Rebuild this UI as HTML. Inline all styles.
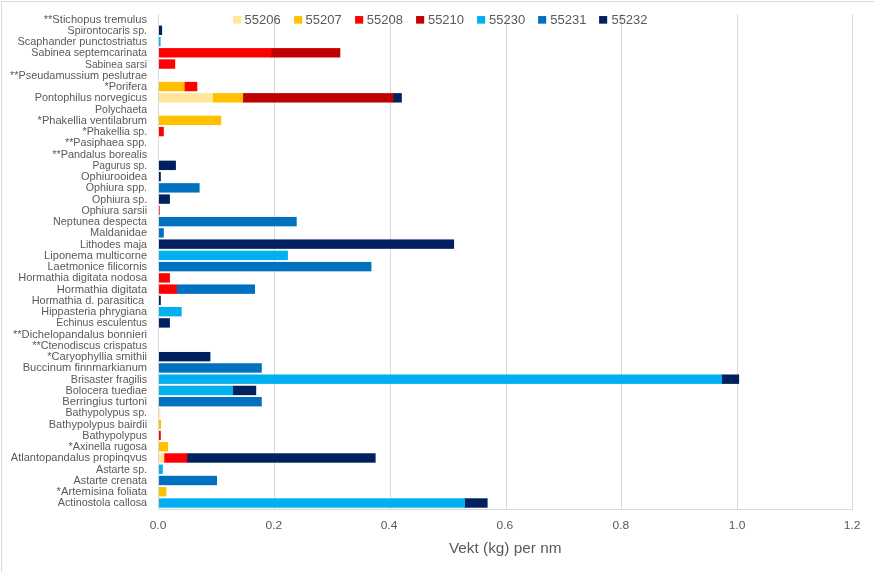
<!DOCTYPE html>
<html lang="no"><head><meta charset="utf-8"><title>Vekt (kg) per nm</title>
<style>html,body{margin:0;padding:0;background:#fff}svg{display:block}text{font-family:"Liberation Sans",sans-serif;fill:#595959}.c{font-size:10.8px;text-anchor:end}.t{font-size:11.6px;text-anchor:middle}.l{font-size:12.6px}.a{font-size:15px;text-anchor:middle}</style></head><body>
<svg width="874" height="572" viewBox="0 0 874 572">
<rect width="874" height="572" fill="#fff"/>
<path d="M1.5 572V1.5H874" fill="none" stroke="#D9D9D9" stroke-width="1"/>
<path d="M274.5 14V509M390.5 14V509M506.5 14V509M621.5 14V509M737.5 14V509M852.5 14V509" fill="none" stroke="#D9D9D9" stroke-width="1"/>
<rect x="159.0" y="25.59" width="3.1" height="9.4" fill="#002060"/>
<rect x="159.0" y="36.84" width="1.6" height="9.4" fill="#00B0F0"/>
<rect x="270.9" y="48.09" width="69.4" height="9.4" fill="#C00000"/>
<rect x="159.0" y="48.09" width="112.6" height="9.4" fill="#FF0000"/>
<rect x="159.0" y="59.35" width="16.2" height="9.4" fill="#FF0000"/>
<rect x="184.0" y="81.86" width="13.3" height="9.4" fill="#FF0000"/>
<rect x="159.0" y="81.86" width="25.7" height="9.4" fill="#FFC000"/>
<rect x="392.8" y="93.12" width="9.0" height="9.4" fill="#002060"/>
<rect x="242.4" y="93.12" width="151.1" height="9.4" fill="#C00000"/>
<rect x="212.2" y="93.12" width="30.9" height="9.4" fill="#FFC000"/>
<rect x="159.0" y="93.12" width="53.9" height="9.4" fill="#FFE699"/>
<rect x="159.0" y="115.63" width="62.2" height="9.4" fill="#FFC000"/>
<rect x="159.0" y="126.88" width="4.8" height="9.4" fill="#FF0000"/>
<rect x="159.0" y="160.65" width="16.9" height="9.4" fill="#002060"/>
<rect x="159.0" y="171.90" width="1.8" height="9.4" fill="#002060"/>
<rect x="159.0" y="183.16" width="40.6" height="9.4" fill="#0070C0"/>
<rect x="159.0" y="194.41" width="10.9" height="9.4" fill="#002060"/>
<rect x="159.0" y="205.67" width="0.7" height="9.4" fill="#FF0000"/>
<rect x="159.0" y="216.92" width="137.7" height="9.4" fill="#0070C0"/>
<rect x="159.0" y="228.18" width="4.8" height="9.4" fill="#0070C0"/>
<rect x="159.0" y="239.43" width="295.1" height="9.4" fill="#002060"/>
<rect x="159.0" y="250.69" width="128.9" height="9.4" fill="#00B0F0"/>
<rect x="159.0" y="261.94" width="212.4" height="9.4" fill="#0070C0"/>
<rect x="159.0" y="273.19" width="10.9" height="9.4" fill="#FF0000"/>
<rect x="176.2" y="284.45" width="78.8" height="9.4" fill="#0070C0"/>
<rect x="159.0" y="284.45" width="17.9" height="9.4" fill="#FF0000"/>
<rect x="159.0" y="295.70" width="1.8" height="9.4" fill="#002060"/>
<rect x="159.0" y="306.96" width="22.7" height="9.4" fill="#00B0F0"/>
<rect x="159.0" y="318.22" width="10.9" height="9.4" fill="#002060"/>
<rect x="159.0" y="351.98" width="51.4" height="9.4" fill="#002060"/>
<rect x="159.0" y="363.24" width="102.8" height="9.4" fill="#0070C0"/>
<rect x="721.3" y="374.49" width="17.8" height="9.4" fill="#002060"/>
<rect x="159.0" y="374.49" width="563.0" height="9.4" fill="#00B0F0"/>
<rect x="232.4" y="385.75" width="23.8" height="9.4" fill="#002060"/>
<rect x="159.0" y="385.75" width="74.1" height="9.4" fill="#00B0F0"/>
<rect x="159.0" y="397.00" width="102.8" height="9.4" fill="#0070C0"/>
<rect x="159.0" y="408.25" width="1.4" height="9.4" fill="#FFE699"/>
<rect x="159.0" y="419.51" width="2.1" height="9.4" fill="#FFC000"/>
<rect x="159.0" y="430.76" width="1.8" height="9.4" fill="#FF0000"/>
<rect x="159.0" y="442.02" width="9.1" height="9.4" fill="#FFC000"/>
<rect x="186.6" y="453.28" width="189.0" height="9.4" fill="#002060"/>
<rect x="163.6" y="453.28" width="23.7" height="9.4" fill="#FF0000"/>
<rect x="159.0" y="453.28" width="5.3" height="9.4" fill="#FFE699"/>
<rect x="159.0" y="464.53" width="3.8" height="9.4" fill="#00B0F0"/>
<rect x="159.0" y="475.79" width="58.0" height="9.4" fill="#0070C0"/>
<rect x="159.0" y="487.04" width="7.4" height="9.4" fill="#FFC000"/>
<rect x="464.3" y="498.30" width="23.3" height="9.4" fill="#002060"/>
<rect x="159.0" y="498.30" width="306.0" height="9.4" fill="#00B0F0"/>
<path d="M158.5 14V509.5H853" fill="none" stroke="#D9D9D9" stroke-width="1"/>
<text class="c" x="147.1" y="22.70" textLength="103.4" lengthAdjust="spacingAndGlyphs">**Stichopus tremulus</text>
<text class="c" x="147.1" y="33.95" textLength="79.5" lengthAdjust="spacingAndGlyphs">Spirontocaris sp.</text>
<text class="c" x="147.1" y="45.19" textLength="129.6" lengthAdjust="spacingAndGlyphs">Scaphander punctostriatus</text>
<text class="c" x="147.1" y="56.44" textLength="115.8" lengthAdjust="spacingAndGlyphs">Sabinea septemcarinata</text>
<text class="c" x="147.1" y="67.68" textLength="62.0" lengthAdjust="spacingAndGlyphs">Sabinea sarsi</text>
<text class="c" x="147.1" y="78.92" textLength="137.2" lengthAdjust="spacingAndGlyphs">**Pseudamussium peslutrae</text>
<text class="c" x="147.1" y="90.17" textLength="42.7" lengthAdjust="spacingAndGlyphs">*Porifera</text>
<text class="c" x="147.1" y="101.41" textLength="112.3" lengthAdjust="spacingAndGlyphs">Pontophilus norvegicus</text>
<text class="c" x="147.1" y="112.66" textLength="52.1" lengthAdjust="spacingAndGlyphs">Polychaeta</text>
<text class="c" x="147.1" y="123.91" textLength="109.5" lengthAdjust="spacingAndGlyphs">*Phakellia ventilabrum</text>
<text class="c" x="147.1" y="135.15" textLength="64.5" lengthAdjust="spacingAndGlyphs">*Phakellia sp.</text>
<text class="c" x="147.1" y="146.39" textLength="82.1" lengthAdjust="spacingAndGlyphs">**Pasiphaea spp.</text>
<text class="c" x="147.1" y="157.64" textLength="94.9" lengthAdjust="spacingAndGlyphs">**Pandalus borealis</text>
<text class="c" x="147.1" y="168.88" textLength="54.7" lengthAdjust="spacingAndGlyphs">Pagurus sp.</text>
<text class="c" x="147.1" y="180.13" textLength="66.1" lengthAdjust="spacingAndGlyphs">Ophiurooidea</text>
<text class="c" x="147.1" y="191.37" textLength="61.4" lengthAdjust="spacingAndGlyphs">Ophiura spp.</text>
<text class="c" x="147.1" y="202.62" textLength="55.1" lengthAdjust="spacingAndGlyphs">Ophiura sp.</text>
<text class="c" x="147.1" y="213.86" textLength="65.7" lengthAdjust="spacingAndGlyphs">Ophiura sarsii</text>
<text class="c" x="147.1" y="225.11" textLength="94.1" lengthAdjust="spacingAndGlyphs">Neptunea despecta</text>
<text class="c" x="147.1" y="236.35" textLength="57.0" lengthAdjust="spacingAndGlyphs">Maldanidae</text>
<text class="c" x="147.1" y="247.60" textLength="67.2" lengthAdjust="spacingAndGlyphs">Lithodes maja</text>
<text class="c" x="147.1" y="258.84" textLength="103.0" lengthAdjust="spacingAndGlyphs">Liponema multicorne</text>
<text class="c" x="147.1" y="270.09" textLength="99.6" lengthAdjust="spacingAndGlyphs">Laetmonice filicornis</text>
<text class="c" x="147.1" y="281.33" textLength="128.9" lengthAdjust="spacingAndGlyphs">Hormathia digitata nodosa</text>
<text class="c" x="147.1" y="292.58" textLength="90.4" lengthAdjust="spacingAndGlyphs">Hormathia digitata</text>
<text class="c" x="144.2" y="303.82" textLength="112.5" lengthAdjust="spacingAndGlyphs">Hormathia d. parasitica</text>
<text class="c" x="147.1" y="315.07" textLength="105.8" lengthAdjust="spacingAndGlyphs">Hippasteria phrygiana</text>
<text class="c" x="147.1" y="326.31" textLength="90.9" lengthAdjust="spacingAndGlyphs">Echinus esculentus</text>
<text class="c" x="147.1" y="337.56" textLength="134.2" lengthAdjust="spacingAndGlyphs">**Dichelopandalus bonnieri</text>
<text class="c" x="147.1" y="348.80" textLength="114.9" lengthAdjust="spacingAndGlyphs">**Ctenodiscus crispatus</text>
<text class="c" x="147.1" y="360.05" textLength="99.9" lengthAdjust="spacingAndGlyphs">*Caryophyllia smithii</text>
<text class="c" x="147.1" y="371.29" textLength="124.4" lengthAdjust="spacingAndGlyphs">Buccinum finnmarkianum</text>
<text class="c" x="147.1" y="382.54" textLength="76.3" lengthAdjust="spacingAndGlyphs">Brisaster fragilis</text>
<text class="c" x="147.1" y="393.78" textLength="81.6" lengthAdjust="spacingAndGlyphs">Bolocera tuediae</text>
<text class="c" x="147.1" y="405.03" textLength="84.9" lengthAdjust="spacingAndGlyphs">Berringius turtoni</text>
<text class="c" x="147.1" y="416.27" textLength="81.7" lengthAdjust="spacingAndGlyphs">Bathypolypus sp.</text>
<text class="c" x="147.1" y="427.52" textLength="98.3" lengthAdjust="spacingAndGlyphs">Bathypolypus bairdii</text>
<text class="c" x="147.1" y="438.76" textLength="64.9" lengthAdjust="spacingAndGlyphs">Bathypolypus</text>
<text class="c" x="147.1" y="450.01" textLength="78.5" lengthAdjust="spacingAndGlyphs">*Axinella rugosa</text>
<text class="c" x="147.1" y="461.25" textLength="136.3" lengthAdjust="spacingAndGlyphs">Atlantopandalus propinqvus</text>
<text class="c" x="147.1" y="472.50" textLength="51.0" lengthAdjust="spacingAndGlyphs">Astarte sp.</text>
<text class="c" x="147.1" y="483.74" textLength="73.6" lengthAdjust="spacingAndGlyphs">Astarte crenata</text>
<text class="c" x="147.1" y="494.99" textLength="90.5" lengthAdjust="spacingAndGlyphs">*Artemisina foliata</text>
<text class="c" x="147.1" y="506.23" textLength="89.4" lengthAdjust="spacingAndGlyphs">Actinostola callosa</text>
<text class="t" x="158.0" y="528.8" textLength="16.7" lengthAdjust="spacingAndGlyphs">0.0</text>
<text class="t" x="273.9" y="528.8" textLength="16.7" lengthAdjust="spacingAndGlyphs">0.2</text>
<text class="t" x="389.0" y="528.8" textLength="16.7" lengthAdjust="spacingAndGlyphs">0.4</text>
<text class="t" x="504.9" y="528.8" textLength="16.7" lengthAdjust="spacingAndGlyphs">0.6</text>
<text class="t" x="620.9" y="528.8" textLength="16.7" lengthAdjust="spacingAndGlyphs">0.8</text>
<text class="t" x="737.1" y="528.8" textLength="16.7" lengthAdjust="spacingAndGlyphs">1.0</text>
<text class="t" x="852.0" y="528.8" textLength="16.7" lengthAdjust="spacingAndGlyphs">1.2</text>
<rect x="233.1" y="16.05" width="8.1" height="7.6" fill="#FFE699"/>
<text class="l" x="244.5" y="23.7" textLength="36.2" lengthAdjust="spacingAndGlyphs">55206</text>
<rect x="294.1" y="16.05" width="8.1" height="7.6" fill="#FFC000"/>
<text class="l" x="305.6" y="23.7" textLength="36.2" lengthAdjust="spacingAndGlyphs">55207</text>
<rect x="355.1" y="16.05" width="8.1" height="7.6" fill="#FF0000"/>
<text class="l" x="366.8" y="23.7" textLength="36.2" lengthAdjust="spacingAndGlyphs">55208</text>
<rect x="416.1" y="16.05" width="8.1" height="7.6" fill="#C00000"/>
<text class="l" x="427.9" y="23.7" textLength="36.2" lengthAdjust="spacingAndGlyphs">55210</text>
<rect x="477.1" y="16.05" width="8.1" height="7.6" fill="#00B0F0"/>
<text class="l" x="489.1" y="23.7" textLength="36.2" lengthAdjust="spacingAndGlyphs">55230</text>
<rect x="538.1" y="16.05" width="8.1" height="7.6" fill="#0070C0"/>
<text class="l" x="550.2" y="23.7" textLength="36.2" lengthAdjust="spacingAndGlyphs">55231</text>
<rect x="599.1" y="16.05" width="8.1" height="7.6" fill="#002060"/>
<text class="l" x="611.4" y="23.7" textLength="36.2" lengthAdjust="spacingAndGlyphs">55232</text>
<text class="a" x="505.2" y="553.1" textLength="112.6" lengthAdjust="spacingAndGlyphs">Vekt (kg) per nm</text>
</svg></body></html>
